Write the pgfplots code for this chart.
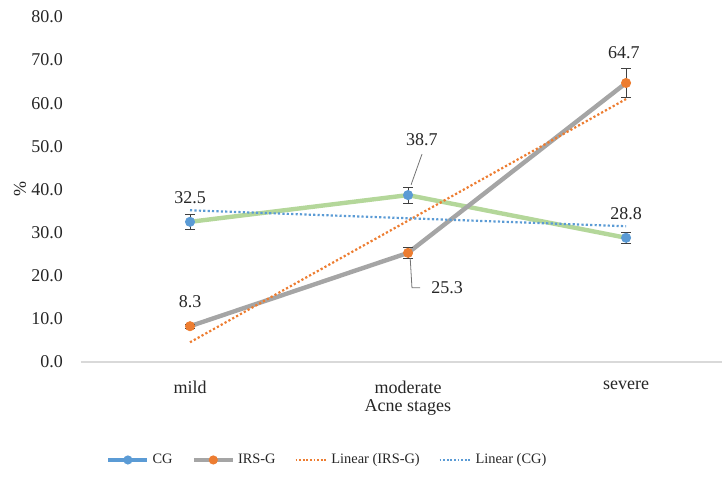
\documentclass[border=0pt]{standalone}
\usepackage{pgfplots}
\pgfplotsset{compat=1.18}
\usepackage{fontspec}
\setmainfont{Liberation Serif}
\definecolor{cgblue}{HTML}{5B9BD5}
\definecolor{irsorange}{HTML}{ED7D31}
\definecolor{irsgray}{HTML}{A5A5A5}
\definecolor{cggreen}{HTML}{B4D79A}
\definecolor{axisgray}{HTML}{D9D9D9}
\definecolor{txt}{HTML}{262626}
\begin{document}
\begin{tikzpicture}[font=\fontsize{9}{10}\selectfont]
\useasboundingbox (-40.5pt,-59pt) rectangle (321.5pt,181pt);
\begin{axis}[
  at={(0,0)}, anchor=south west,
  scale only axis, width=320.5pt, height=172.5pt,
  xmin=0.5, xmax=3.44, ymin=0, ymax=80,
  xtick={1,2,3}, xticklabels={mild,moderate,severe},
  ytick={0,10,...,80},
  axis x line*=bottom, axis y line*=left,
  x axis line style={draw=axisgray, line width=0.8pt},
  y axis line style={draw=none},
  tick style={draw=none},
  /pgf/number format/.cd, fixed, fixed zerofill, precision=1, assume math mode=true,
  /pgfplots/.cd,
  yticklabel style={text=txt, xshift=-5.5pt},
  xticklabel style={text=txt, yshift=-6pt},
  xlabel={Acne stages}, ylabel={\%},
  xlabel style={text=txt, at={(axis description cs:0.51,-0.133)}, anchor=center},
  ylabel style={text=txt, at={(axis description cs:-0.095,0.5)}, anchor=center},
  legend columns=4,
  legend style={at={(axis description cs:0.385,-0.284)}, anchor=center, draw=none, fill=none,
    font=\fontsize{7.2}{9}\selectfont, text=txt,
    nodes={inner xsep=1.5pt},
    /tikz/every even column/.append style={column sep=8pt}},
  clip=false,
]
% CG line (green)
\addplot[cggreen, line width=2.2pt, forget plot] coordinates {(1,32.5) (2,38.7) (3,28.8)};
% IRS-G line (gray)
\addplot[irsgray, line width=2.2pt, forget plot] coordinates {(1,8.3) (2,25.3) (3,64.7)};
% CG markers with error bars
\addplot[draw=none, mark=*, mark size=2.3pt, mark options={fill=cgblue, draw=cgblue},
  error bars/.cd, y dir=both, y explicit, error bar style={black!75, line width=0.5pt}, error mark options={rotate=90, mark size=2.5pt, black!75},
  /pgfplots/legend image code/.code={\draw[cgblue, line width=2.2pt] (0pt,0pt) -- (19.5pt,0pt); \fill[cgblue] (9.75pt,0pt) circle (2.3pt);}]
  coordinates {(1,32.5) +- (0,1.7) (2,38.7) +- (0,1.9) (3,28.8) +- (0,1.3)};
\addlegendentry{CG}
% IRS-G markers with error bars
\addplot[draw=none, mark=*, mark size=2.3pt, mark options={fill=irsorange, draw=irsorange},
  error bars/.cd, y dir=both, y explicit, error bar style={black!75, line width=0.5pt}, error mark options={rotate=90, mark size=2.5pt, black!75},
  /pgfplots/legend image code/.code={\draw[irsgray, line width=2.2pt] (0pt,0pt) -- (19.5pt,0pt); \fill[irsorange] (9.75pt,0pt) circle (2.3pt);}]
  coordinates {(1,8.3) +- (0,0.5) (2,25.3) +- (0,1.3) (3,64.7) +- (0,3.4)};
\addlegendentry{IRS-G}
% Trendlines
\addplot[irsorange, line width=1.1pt, dash pattern=on 1.1pt off 1.1pt,
  legend image code/.code={\draw[irsorange, line width=0.9pt, dash pattern=on 0.9pt off 0.9pt] (0pt,0pt) -- (16pt,0pt);}]
  coordinates {(1,4.57) (3,60.97)};
\addlegendentry{Linear (IRS-G)}
\addplot[cgblue, line width=1.1pt, dash pattern=on 1.1pt off 1.1pt,
  legend image code/.code={\draw[cgblue, line width=0.9pt, dash pattern=on 0.9pt off 0.9pt] (0pt,0pt) -- (16pt,0pt);}]
  coordinates {(1,35.18) (3,31.48)};
\addlegendentry{Linear (CG)}
% data labels
\node[text=txt, anchor=center] at (axis cs:1.0,38.0) {32.5};
\node[text=txt, anchor=center] at (axis cs:1.0,13.9) {8.3};
\node[text=txt, anchor=center] at (axis cs:2.064,51.5) {38.7};
\node[text=txt, anchor=center] at (axis cs:2.99,71.65) {64.7};
\node[text=txt, anchor=center] at (axis cs:3.0,34.3) {28.8};
\node[text=txt, anchor=west] at (axis cs:2.075,17.2) {25.3};
% leader lines
\draw[black!55, line width=0.4pt] (axis cs:2.014,41.1) -- (axis cs:2.064,48.2);
\draw[black!55, line width=0.4pt] (axis cs:2.01,24.0) -- (axis cs:2.018,17.2) -- (axis cs:2.055,17.2);
\end{axis}
\end{tikzpicture}
\end{document}
